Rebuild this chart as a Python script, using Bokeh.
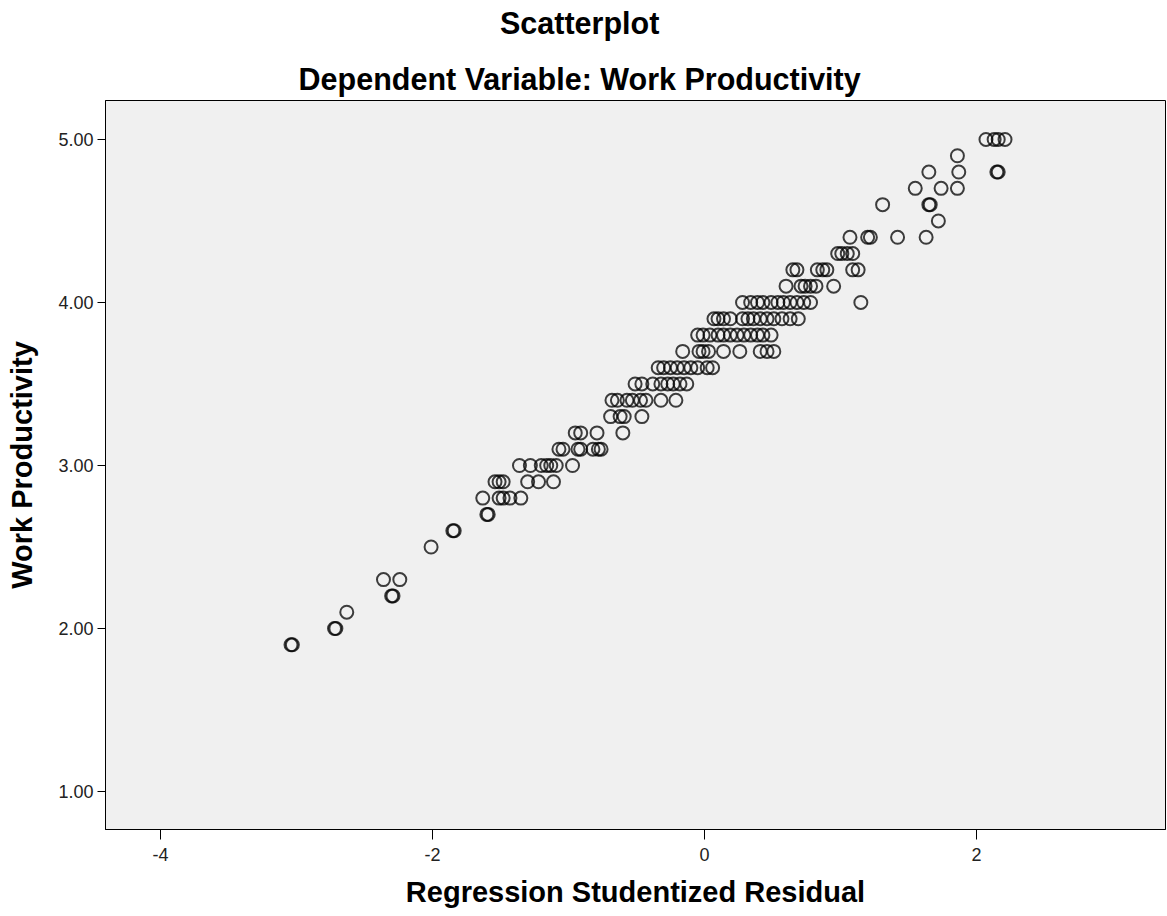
from bokeh.plotting import figure
from bokeh.layouts import column
from bokeh.models import Range1d, FixedTicker, PrintfTickFormatter, Label, ColumnDataSource
from bokeh.embed import file_html
from bokeh.resources import INLINE

# Work Productivity levels and the studentized residuals observed at each level
prod_levels = [1.9, 2.0, 2.1, 2.2, 2.3, 2.5, 2.6, 2.7, 2.8, 2.9, 3.0, 3.1, 3.2, 3.3, 3.4,
               3.5, 3.6, 3.7, 3.8, 3.9, 4.0, 4.1, 4.2, 4.3, 4.4, 4.5, 4.6, 4.7, 4.8, 4.9, 5.0]
residual_rows = [
    [-3.04, -3.03],
    [-2.72, -2.71],
    [-2.63],
    [-2.30, -2.29],
    [-2.36, -2.24],
    [-2.01],
    [-1.85, -1.84],
    [-1.60, -1.59],
    [-1.63, -1.51, -1.48, -1.43, -1.35],
    [-1.54, -1.51, -1.48, -1.30, -1.22, -1.11],
    [-1.36, -1.28, -1.20, -1.16, -1.13, -1.09, -0.97],
    [-1.07, -1.04, -0.93, -0.91, -0.82, -0.78, -0.76],
    [-0.95, -0.91, -0.79, -0.60],
    [-0.69, -0.62, -0.59, -0.46],
    [-0.68, -0.64, -0.57, -0.53, -0.47, -0.43, -0.32, -0.21],
    [-0.51, -0.46, -0.38, -0.32, -0.27, -0.23, -0.18, -0.13],
    [-0.34, -0.30, -0.25, -0.20, -0.15, -0.10, -0.05, 0.02, 0.06],
    [-0.16, -0.04, -0.01, 0.03, 0.14, 0.26, 0.41, 0.46, 0.51],
    [-0.05, -0.01, 0.04, 0.10, 0.14, 0.19, 0.24, 0.29, 0.34, 0.39, 0.43, 0.49],
    [0.07, 0.10, 0.14, 0.19, 0.28, 0.32, 0.36, 0.41, 0.46, 0.51, 0.57, 0.63, 0.69],
    [0.28, 0.34, 0.39, 0.43, 0.49, 0.54, 0.58, 0.63, 0.68, 0.73, 0.78, 1.15],
    [0.60, 0.71, 0.74, 0.78, 0.82, 0.95],
    [0.65, 0.68, 0.83, 0.87, 0.90, 1.09, 1.13],
    [0.98, 1.01, 1.05, 1.09],
    [1.07, 1.20, 1.22, 1.42, 1.63],
    [1.72],
    [1.31, 1.65, 1.66],
    [1.55, 1.74, 1.86],
    [1.65, 1.87, 2.15, 2.16],
    [1.86],
    [2.07, 2.13, 2.16, 2.21],
]
x_ticks = [-4, -2, 0, 2]
y_ticks = [1, 2, 3, 4, 5]
title_lines = ["Scatterplot", "Dependent Variable: Work Productivity"]

residual = []
productivity = []
for lvl, row in zip(prod_levels, residual_rows):
    for r in row:
        residual.append(r)
        productivity.append(lvl)

src = ColumnDataSource(data=dict(x=residual, y=productivity))

FONT = "Liberation Sans"

# ---- header strip holding the two title lines ----
HEAD_H = 99
head = figure(width=1167, height=HEAD_H, output_backend="svg", toolbar_location=None,
              x_range=Range1d(0, 1167), y_range=Range1d(HEAD_H, 0),
              x_axis_location=None, y_axis_location=None, min_border=0)
head.grid.visible = False
head.outline_line_color = None
head.background_fill_color = "white"
head.border_fill_color = "white"
for txt, ty in zip(title_lines, [22, 78]):
    head.add_layout(Label(x=522, y=ty, text=txt, text_font=FONT, text_font_style="bold",
                          text_font_size="30.5px", text_align="center",
                          text_baseline="middle", text_color="black"))

# ---- main scatter ----
p = figure(width=1167, height=916 - HEAD_H, output_backend="svg", toolbar_location=None,
           x_range=Range1d(-4.404, 3.39), y_range=Range1d(0.767, 5.239),
           min_border_left=105, min_border_right=2, min_border_top=1, min_border_bottom=87)
p.background_fill_color = "#f0f0f0"
p.border_fill_color = "white"
p.outline_line_color = "black"
p.outline_line_width = 1
p.grid.visible = False

p.scatter("x", "y", source=src, marker="circle", size=13, fill_color=None,
          line_color="black", line_alpha=0.75, line_width=2)

for ax in (p.xaxis[0], p.yaxis[0]):
    ax.axis_line_color = "black"
    ax.major_tick_line_color = "black"
    ax.minor_tick_line_color = None
    ax.major_tick_in = 0
    ax.major_label_text_font = FONT
    ax.major_label_text_font_size = "18px"
    ax.major_label_text_color = "#222222"
    ax.axis_label_text_font = FONT
    ax.axis_label_text_font_style = "bold"
    ax.axis_label_text_font_size = "29px"
    ax.axis_label_text_color = "black"

p.xaxis.ticker = FixedTicker(ticks=x_ticks)
p.xaxis.formatter = PrintfTickFormatter(format="%d")
p.xaxis.major_tick_out = 10
p.xaxis.major_label_standoff = 8
p.xaxis.axis_label = "Regression Studentized Residual"
p.xaxis.axis_label_standoff = 12

p.yaxis.ticker = FixedTicker(ticks=y_ticks)
p.yaxis.formatter = PrintfTickFormatter(format="%.2f")
p.yaxis.major_tick_out = 8
p.yaxis.major_label_standoff = 4
p.yaxis.axis_label = "Work Productivity"
p.yaxis.axis_label_standoff = 17

layout = column(head, p, spacing=0)
open("out.html", "w").write(file_html(layout, INLINE))
